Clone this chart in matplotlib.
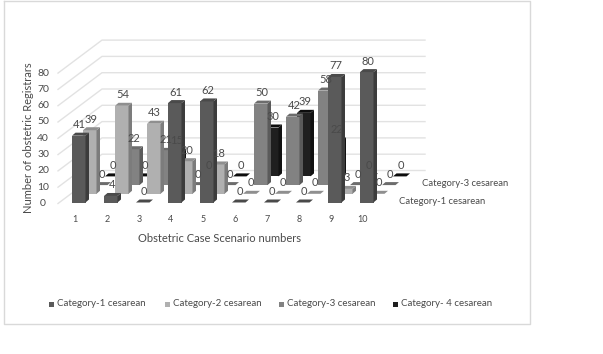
import matplotlib
matplotlib.use('Agg')
import matplotlib.pyplot as plt

plt.rcParams['font.family'] = ['Lato', 'DejaVu Sans']

scenarios = [1, 2, 3, 4, 5, 6, 7, 8, 9, 10]
cat1 = [41, 4, 0, 61, 62, 0, 0, 0, 77, 80]
cat2 = [39, 54, 43, 20, 18, 0, 0, 0, 3, 0]
cat3 = [0, 22, 21, 0, 0, 50, 42, 58, 0, 0]
cat4 = [0, 0, 15, 0, 0, 30, 39, 22, 0, 0]
series = [cat1, cat2, cat3, cat4]
names = ['Category-1 cesarean', 'Category-2 cesarean', 'Category-3 cesarean', 'Category- 4 cesarean']
yticks = [0, 10, 20, 30, 40, 50, 60, 70, 80]

# front, top, side colour of each series
colors = [('#5a5a5a', '#4a4a4a', '#3c3c3c'),
          ('#b0b0b0', '#8f8f8f', '#7c7c7c'),
          ('#828282', '#6c6c6c', '#5a5a5a'),
          ('#1f1f1f', '#0c0c0c', '#111111')]
txt = '#4a4a4a'

W, H = 603, 354
px_x = 32.0   # pixels per scenario
px_y = 1.63   # pixels per registrar
x0_px = 40.0
y0_px = 202.5

fig = plt.figure(figsize=(W / 100, H / 100), dpi=100)
ax = fig.add_axes([0, 0, 1, 1])
ax.set_xlim(-x0_px / px_x, (W - x0_px) / px_x)
ax.set_ylim(-(H - y0_px) / px_y, y0_px / px_y)
ax.axis('off')


def X(p):
    return (p - x0_px) / px_x


def Y(p):
    return (y0_px - p) / px_y


# sheet border
ax.plot([X(3.5), X(3.5), X(529.5), X(529.5), X(3.5)], [Y(1), Y(324), Y(324), Y(1), Y(1)],
        color='#d9d9d9', lw=1, zorder=1)

# floor and side wall gridlines
back_dx = 44 / px_x
back_dy = 33 / px_y
grid_front = X(58)
grid_end = X(425)
for v in yticks:
    yv = v - 1 / px_y
    ax.plot([grid_front, grid_front + back_dx, grid_end], [yv, yv + back_dy, yv + back_dy],
            color='#e2e2e2', lw=1, zorder=2)
    ax.text(X(43), v - 1 / px_y, str(v), ha='center', va='center', fontsize=7.5, color=txt, zorder=50)

# bars, back row first
step_x = 11 / px_x
step_y = 8.7 / px_y
bar_w = 13.5 / px_x
dep_x = 3.5 / px_x
dep_y = 3 / px_y
z = 10
for s in range(3, -1, -1):
    front, top, side = colors[s]
    for n, v in zip(scenarios, series[s]):
        x = n + s * step_x
        y = s * step_y
        z += 1
        ax.fill([x, x + bar_w, x + bar_w, x], [y, y, y + v, y + v], color=front, lw=0, zorder=z)
        ax.fill([x + bar_w, x + bar_w + dep_x, x + bar_w + dep_x, x + bar_w],
                [y, y + dep_y, y + v + dep_y, y + v], color=side, lw=0, zorder=z)
        ax.fill([x, x + bar_w, x + bar_w + dep_x, x + dep_x],
                [y + v, y + v, y + v + dep_y, y + v + dep_y], color=top, lw=0, zorder=z)

# value labels sit over the bars
for s in range(4):
    for n, v in zip(scenarios, series[s]):
        ax.text(n + s * step_x + bar_w / 2 + 1 / px_x, v + s * step_y + 11 / px_y, str(v),
                ha='center', va='center', fontsize=8, color=txt, zorder=60)

for n in scenarios:
    ax.text(n + 3 / px_x, Y(219), str(n), ha='center', va='center', fontsize=6.5, color=txt, zorder=50)

ax.text(X(219), Y(239), 'Obstetric Case Scenario numbers', ha='center', va='center',
        fontsize=8, color=txt)
ax.text(X(28), Y(138), 'Number of obstetric Registrars', rotation=90, ha='center', va='center',
        fontsize=8, color=txt)

# series names on the depth axis
ax.text(X(422), Y(183), names[2], ha='left', va='center', fontsize=6.8, color=txt)
ax.text(X(399), Y(201), names[0], ha='left', va='center', fontsize=6.8, color=txt)

# legend
leg_x = [49, 165, 279, 393]
for lx, name, c in zip(leg_x, names, colors):
    ax.fill([X(lx), X(lx + 5), X(lx + 5), X(lx)], [Y(301.5), Y(301.5), Y(306.5), Y(306.5)],
            color=c[0], lw=0)
    ax.text(X(lx + 8), Y(304), name, ha='left', va='center', fontsize=7, color=txt)

fig.savefig('out.png', dpi=100)
